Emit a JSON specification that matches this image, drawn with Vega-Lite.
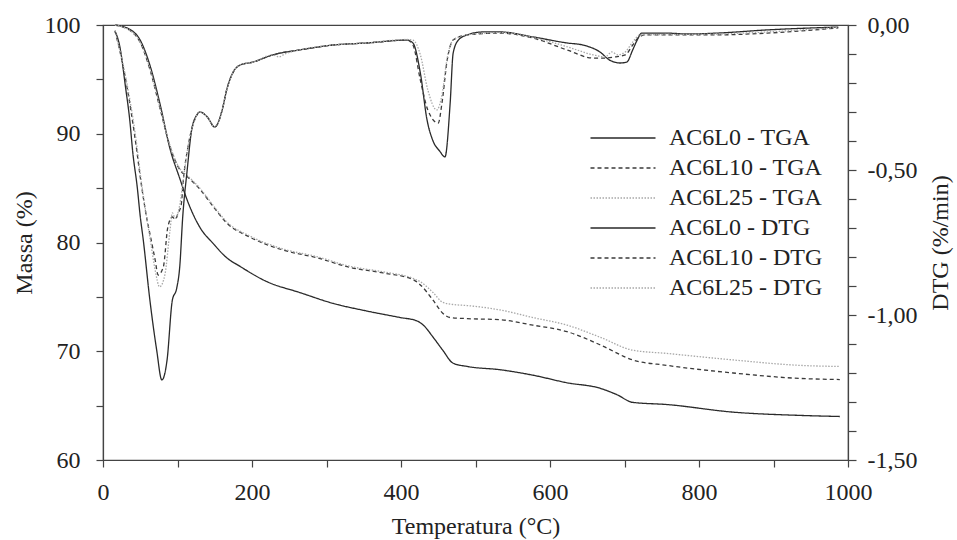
{
  "$schema": "https://vega.github.io/schema/vega-lite/v6.json",
  "width": 745,
  "height": 435,
  "autosize": {"type": "none"},
  "padding": {"left": 103, "top": 25, "right": 109, "bottom": 80},
  "background": "white",
  "config": {
    "font": "Liberation Serif",
    "view": {"stroke": "#444", "strokeWidth": 1.2},
    "axis": {
      "domainColor": "#444", "tickColor": "#444", "labelColor": "#222", "titleColor": "#222",
      "labelFont": "Liberation Serif", "titleFont": "Liberation Serif",
      "labelFontSize": 24, "titleFontSize": 24, "titleFontWeight": "normal",
      "grid": false, "tickSize": 7, "domainWidth": 1.2, "tickWidth": 1.2,
      "labelOverlap": false, "labelBound": false, "labelFlush": false
    }
  },
  "data": {
    "values": [
      {"s":"AC6L0 - TGA","t":16,"v":100},{"s":"AC6L0 - TGA","t":36,"v":99.6},{"s":"AC6L0 - TGA","t":50,"v":98.6},{"s":"AC6L0 - TGA","t":63,"v":96.3},{"s":"AC6L0 - TGA","t":77,"v":92.6},{"s":"AC6L0 - TGA","t":90,"v":88.6},{"s":"AC6L0 - TGA","t":103,"v":85.9},{"s":"AC6L0 - TGA","t":113,"v":83.9},{"s":"AC6L0 - TGA","t":130,"v":81.4},{"s":"AC6L0 - TGA","t":148,"v":79.9},{"s":"AC6L0 - TGA","t":166,"v":78.6},{"s":"AC6L0 - TGA","t":184,"v":77.8},{"s":"AC6L0 - TGA","t":220,"v":76.4},{"s":"AC6L0 - TGA","t":264,"v":75.4},{"s":"AC6L0 - TGA","t":309,"v":74.4},{"s":"AC6L0 - TGA","t":354,"v":73.7},{"s":"AC6L0 - TGA","t":399,"v":73.1},{"s":"AC6L0 - TGA","t":421,"v":72.8},{"s":"AC6L0 - TGA","t":430,"v":72.4},{"s":"AC6L0 - TGA","t":443,"v":71.3},{"s":"AC6L0 - TGA","t":456,"v":70.1},{"s":"AC6L0 - TGA","t":470,"v":68.9},{"s":"AC6L0 - TGA","t":489,"v":68.6},{"s":"AC6L0 - TGA","t":533,"v":68.3},{"s":"AC6L0 - TGA","t":577,"v":67.8},{"s":"AC6L0 - TGA","t":623,"v":67.1},{"s":"AC6L0 - TGA","t":667,"v":66.6},{"s":"AC6L0 - TGA","t":690,"v":66.0},{"s":"AC6L0 - TGA","t":711,"v":65.3},{"s":"AC6L0 - TGA","t":757,"v":65.1},{"s":"AC6L0 - TGA","t":846,"v":64.4},{"s":"AC6L0 - TGA","t":936,"v":64.1},{"s":"AC6L0 - TGA","t":989,"v":64.0},

      {"s":"AC6L10 - TGA","t":16,"v":100},{"s":"AC6L10 - TGA","t":36,"v":99.5},{"s":"AC6L10 - TGA","t":50,"v":98.4},{"s":"AC6L10 - TGA","t":63,"v":95.9},{"s":"AC6L10 - TGA","t":77,"v":92.2},{"s":"AC6L10 - TGA","t":90,"v":88.8},{"s":"AC6L10 - TGA","t":103,"v":86.7},{"s":"AC6L10 - TGA","t":114,"v":86.0},{"s":"AC6L10 - TGA","t":130,"v":84.9},{"s":"AC6L10 - TGA","t":148,"v":83.3},{"s":"AC6L10 - TGA","t":166,"v":81.8},{"s":"AC6L10 - TGA","t":197,"v":80.5},{"s":"AC6L10 - TGA","t":242,"v":79.3},{"s":"AC6L10 - TGA","t":287,"v":78.6},{"s":"AC6L10 - TGA","t":332,"v":77.7},{"s":"AC6L10 - TGA","t":376,"v":77.2},{"s":"AC6L10 - TGA","t":416,"v":76.6},{"s":"AC6L10 - TGA","t":426,"v":76.1},{"s":"AC6L10 - TGA","t":443,"v":74.7},{"s":"AC6L10 - TGA","t":456,"v":73.5},{"s":"AC6L10 - TGA","t":466,"v":73.1},{"s":"AC6L10 - TGA","t":489,"v":73.0},{"s":"AC6L10 - TGA","t":533,"v":72.9},{"s":"AC6L10 - TGA","t":577,"v":72.4},{"s":"AC6L10 - TGA","t":623,"v":71.8},{"s":"AC6L10 - TGA","t":667,"v":70.6},{"s":"AC6L10 - TGA","t":711,"v":69.2},{"s":"AC6L10 - TGA","t":757,"v":68.7},{"s":"AC6L10 - TGA","t":846,"v":68.0},{"s":"AC6L10 - TGA","t":936,"v":67.5},{"s":"AC6L10 - TGA","t":989,"v":67.4},

      {"s":"AC6L25 - TGA","t":16,"v":100},{"s":"AC6L25 - TGA","t":36,"v":99.5},{"s":"AC6L25 - TGA","t":50,"v":98.4},{"s":"AC6L25 - TGA","t":63,"v":96.0},{"s":"AC6L25 - TGA","t":77,"v":92.3},{"s":"AC6L25 - TGA","t":90,"v":88.9},{"s":"AC6L25 - TGA","t":103,"v":86.8},{"s":"AC6L25 - TGA","t":114,"v":86.1},{"s":"AC6L25 - TGA","t":130,"v":85.0},{"s":"AC6L25 - TGA","t":148,"v":83.4},{"s":"AC6L25 - TGA","t":166,"v":81.9},{"s":"AC6L25 - TGA","t":197,"v":80.6},{"s":"AC6L25 - TGA","t":242,"v":79.4},{"s":"AC6L25 - TGA","t":287,"v":78.7},{"s":"AC6L25 - TGA","t":332,"v":77.8},{"s":"AC6L25 - TGA","t":376,"v":77.3},{"s":"AC6L25 - TGA","t":416,"v":76.7},{"s":"AC6L25 - TGA","t":428,"v":76.3},{"s":"AC6L25 - TGA","t":443,"v":75.4},{"s":"AC6L25 - TGA","t":456,"v":74.5},{"s":"AC6L25 - TGA","t":470,"v":74.3},{"s":"AC6L25 - TGA","t":489,"v":74.2},{"s":"AC6L25 - TGA","t":533,"v":73.8},{"s":"AC6L25 - TGA","t":577,"v":73.1},{"s":"AC6L25 - TGA","t":623,"v":72.4},{"s":"AC6L25 - TGA","t":667,"v":71.3},{"s":"AC6L25 - TGA","t":711,"v":70.1},{"s":"AC6L25 - TGA","t":757,"v":69.8},{"s":"AC6L25 - TGA","t":846,"v":69.2},{"s":"AC6L25 - TGA","t":936,"v":68.7},{"s":"AC6L25 - TGA","t":989,"v":68.6},

      {"s":"AC6L0 - DTG","t":16,"v":-0.02},{"s":"AC6L0 - DTG","t":23,"v":-0.08},{"s":"AC6L0 - DTG","t":30,"v":-0.21},{"s":"AC6L0 - DTG","t":36,"v":-0.33},{"s":"AC6L0 - DTG","t":40,"v":-0.44},{"s":"AC6L0 - DTG","t":46,"v":-0.56},{"s":"AC6L0 - DTG","t":50,"v":-0.66},{"s":"AC6L0 - DTG","t":54,"v":-0.74},{"s":"AC6L0 - DTG","t":63,"v":-0.95},{"s":"AC6L0 - DTG","t":72,"v":-1.12},{"s":"AC6L0 - DTG","t":79,"v":-1.224},{"s":"AC6L0 - DTG","t":86,"v":-1.155},{"s":"AC6L0 - DTG","t":93,"v":-0.95},{"s":"AC6L0 - DTG","t":99,"v":-0.907},{"s":"AC6L0 - DTG","t":103,"v":-0.834},{"s":"AC6L0 - DTG","t":107,"v":-0.662},{"s":"AC6L0 - DTG","t":113,"v":-0.5},{"s":"AC6L0 - DTG","t":119,"v":-0.362},{"s":"AC6L0 - DTG","t":126,"v":-0.31},{"s":"AC6L0 - DTG","t":130,"v":-0.3},{"s":"AC6L0 - DTG","t":140,"v":-0.317},{"s":"AC6L0 - DTG","t":150,"v":-0.352},{"s":"AC6L0 - DTG","t":160,"v":-0.293},{"s":"AC6L0 - DTG","t":166,"v":-0.224},{"s":"AC6L0 - DTG","t":174,"v":-0.166},{"s":"AC6L0 - DTG","t":184,"v":-0.138},{"s":"AC6L0 - DTG","t":201,"v":-0.128},{"s":"AC6L0 - DTG","t":228,"v":-0.103},{"s":"AC6L0 - DTG","t":264,"v":-0.086},{"s":"AC6L0 - DTG","t":309,"v":-0.069},{"s":"AC6L0 - DTG","t":354,"v":-0.062},{"s":"AC6L0 - DTG","t":408,"v":-0.052},{"s":"AC6L0 - DTG","t":416,"v":-0.062},{"s":"AC6L0 - DTG","t":426,"v":-0.166},{"s":"AC6L0 - DTG","t":435,"v":-0.328},{"s":"AC6L0 - DTG","t":443,"v":-0.4},{"s":"AC6L0 - DTG","t":452,"v":-0.435},{"s":"AC6L0 - DTG","t":459,"v":-0.455},{"s":"AC6L0 - DTG","t":466,"v":-0.269},{"s":"AC6L0 - DTG","t":470,"v":-0.097},{"s":"AC6L0 - DTG","t":477,"v":-0.052},{"s":"AC6L0 - DTG","t":489,"v":-0.034},{"s":"AC6L0 - DTG","t":510,"v":-0.024},{"s":"AC6L0 - DTG","t":533,"v":-0.024},{"s":"AC6L0 - DTG","t":577,"v":-0.041},{"s":"AC6L0 - DTG","t":623,"v":-0.062},{"s":"AC6L0 - DTG","t":644,"v":-0.069},{"s":"AC6L0 - DTG","t":667,"v":-0.093},{"s":"AC6L0 - DTG","t":680,"v":-0.121},{"s":"AC6L0 - DTG","t":694,"v":-0.131},{"s":"AC6L0 - DTG","t":703,"v":-0.128},{"s":"AC6L0 - DTG","t":711,"v":-0.086},{"s":"AC6L0 - DTG","t":717,"v":-0.052},{"s":"AC6L0 - DTG","t":723,"v":-0.028},{"s":"AC6L0 - DTG","t":757,"v":-0.028},{"s":"AC6L0 - DTG","t":784,"v":-0.031},{"s":"AC6L0 - DTG","t":824,"v":-0.028},{"s":"AC6L0 - DTG","t":891,"v":-0.017},{"s":"AC6L0 - DTG","t":987,"v":-0.007},

      {"s":"AC6L10 - DTG","t":16,"v":-0.02},{"s":"AC6L10 - DTG","t":19,"v":-0.05},{"s":"AC6L10 - DTG","t":32,"v":-0.21},{"s":"AC6L10 - DTG","t":43,"v":-0.39},{"s":"AC6L10 - DTG","t":52,"v":-0.56},{"s":"AC6L10 - DTG","t":59,"v":-0.67},{"s":"AC6L10 - DTG","t":63,"v":-0.72},{"s":"AC6L10 - DTG","t":70,"v":-0.81},{"s":"AC6L10 - DTG","t":74,"v":-0.862},{"s":"AC6L10 - DTG","t":81,"v":-0.834},{"s":"AC6L10 - DTG","t":87,"v":-0.697},{"s":"AC6L10 - DTG","t":93,"v":-0.662},{"s":"AC6L10 - DTG","t":97,"v":-0.67},{"s":"AC6L10 - DTG","t":101,"v":-0.648},{"s":"AC6L10 - DTG","t":105,"v":-0.62},{"s":"AC6L10 - DTG","t":108,"v":-0.53},{"s":"AC6L10 - DTG","t":114,"v":-0.421},{"s":"AC6L10 - DTG","t":123,"v":-0.328},{"s":"AC6L10 - DTG","t":130,"v":-0.3},{"s":"AC6L10 - DTG","t":140,"v":-0.317},{"s":"AC6L10 - DTG","t":150,"v":-0.352},{"s":"AC6L10 - DTG","t":160,"v":-0.293},{"s":"AC6L10 - DTG","t":166,"v":-0.224},{"s":"AC6L10 - DTG","t":174,"v":-0.166},{"s":"AC6L10 - DTG","t":184,"v":-0.138},{"s":"AC6L10 - DTG","t":201,"v":-0.128},{"s":"AC6L10 - DTG","t":228,"v":-0.103},{"s":"AC6L10 - DTG","t":264,"v":-0.086},{"s":"AC6L10 - DTG","t":309,"v":-0.069},{"s":"AC6L10 - DTG","t":354,"v":-0.062},{"s":"AC6L10 - DTG","t":408,"v":-0.052},{"s":"AC6L10 - DTG","t":416,"v":-0.069},{"s":"AC6L10 - DTG","t":426,"v":-0.19},{"s":"AC6L10 - DTG","t":436,"v":-0.293},{"s":"AC6L10 - DTG","t":450,"v":-0.338},{"s":"AC6L10 - DTG","t":455,"v":-0.269},{"s":"AC6L10 - DTG","t":462,"v":-0.121},{"s":"AC6L10 - DTG","t":470,"v":-0.052},{"s":"AC6L10 - DTG","t":489,"v":-0.034},{"s":"AC6L10 - DTG","t":533,"v":-0.028},{"s":"AC6L10 - DTG","t":577,"v":-0.045},{"s":"AC6L10 - DTG","t":623,"v":-0.086},{"s":"AC6L10 - DTG","t":658,"v":-0.114},{"s":"AC6L10 - DTG","t":674,"v":-0.114},{"s":"AC6L10 - DTG","t":687,"v":-0.11},{"s":"AC6L10 - DTG","t":701,"v":-0.103},{"s":"AC6L10 - DTG","t":711,"v":-0.069},{"s":"AC6L10 - DTG","t":718,"v":-0.045},{"s":"AC6L10 - DTG","t":728,"v":-0.034},{"s":"AC6L10 - DTG","t":824,"v":-0.034},{"s":"AC6L10 - DTG","t":891,"v":-0.028},{"s":"AC6L10 - DTG","t":987,"v":-0.01},

      {"s":"AC6L25 - DTG","t":16,"v":-0.02},{"s":"AC6L25 - DTG","t":19,"v":-0.05},{"s":"AC6L25 - DTG","t":32,"v":-0.2},{"s":"AC6L25 - DTG","t":43,"v":-0.37},{"s":"AC6L25 - DTG","t":52,"v":-0.55},{"s":"AC6L25 - DTG","t":59,"v":-0.67},{"s":"AC6L25 - DTG","t":64,"v":-0.75},{"s":"AC6L25 - DTG","t":70,"v":-0.845},{"s":"AC6L25 - DTG","t":76,"v":-0.903},{"s":"AC6L25 - DTG","t":83,"v":-0.862},{"s":"AC6L25 - DTG","t":90,"v":-0.707},{"s":"AC6L25 - DTG","t":93,"v":-0.648},{"s":"AC6L25 - DTG","t":97,"v":-0.666},{"s":"AC6L25 - DTG","t":103,"v":-0.621},{"s":"AC6L25 - DTG","t":108,"v":-0.53},{"s":"AC6L25 - DTG","t":114,"v":-0.421},{"s":"AC6L25 - DTG","t":123,"v":-0.328},{"s":"AC6L25 - DTG","t":130,"v":-0.3},{"s":"AC6L25 - DTG","t":140,"v":-0.317},{"s":"AC6L25 - DTG","t":150,"v":-0.352},{"s":"AC6L25 - DTG","t":160,"v":-0.293},{"s":"AC6L25 - DTG","t":166,"v":-0.224},{"s":"AC6L25 - DTG","t":174,"v":-0.166},{"s":"AC6L25 - DTG","t":184,"v":-0.138},{"s":"AC6L25 - DTG","t":201,"v":-0.128},{"s":"AC6L25 - DTG","t":228,"v":-0.103},{"s":"AC6L25 - DTG","t":236,"v":-0.11},{"s":"AC6L25 - DTG","t":244,"v":-0.1},{"s":"AC6L25 - DTG","t":264,"v":-0.086},{"s":"AC6L25 - DTG","t":309,"v":-0.069},{"s":"AC6L25 - DTG","t":354,"v":-0.062},{"s":"AC6L25 - DTG","t":408,"v":-0.05},{"s":"AC6L25 - DTG","t":416,"v":-0.052},{"s":"AC6L25 - DTG","t":426,"v":-0.103},{"s":"AC6L25 - DTG","t":436,"v":-0.224},{"s":"AC6L25 - DTG","t":448,"v":-0.293},{"s":"AC6L25 - DTG","t":455,"v":-0.241},{"s":"AC6L25 - DTG","t":462,"v":-0.114},{"s":"AC6L25 - DTG","t":470,"v":-0.052},{"s":"AC6L25 - DTG","t":489,"v":-0.034},{"s":"AC6L25 - DTG","t":533,"v":-0.026},{"s":"AC6L25 - DTG","t":577,"v":-0.043},{"s":"AC6L25 - DTG","t":623,"v":-0.075},{"s":"AC6L25 - DTG","t":658,"v":-0.103},{"s":"AC6L25 - DTG","t":674,"v":-0.11},{"s":"AC6L25 - DTG","t":683,"v":-0.093},{"s":"AC6L25 - DTG","t":691,"v":-0.103},{"s":"AC6L25 - DTG","t":701,"v":-0.093},{"s":"AC6L25 - DTG","t":711,"v":-0.059},{"s":"AC6L25 - DTG","t":721,"v":-0.034},{"s":"AC6L25 - DTG","t":824,"v":-0.031},{"s":"AC6L25 - DTG","t":891,"v":-0.024},{"s":"AC6L25 - DTG","t":987,"v":-0.008}
    ]
  },
  "layer": [
    {
      "transform": [{"filter": "indexof(datum.s, 'TGA') >= 0"}],
      "mark": {"type": "line", "interpolate": "monotone", "strokeWidth": 1.3},
      "encoding": {
        "x": {
          "field": "t", "type": "quantitative",
          "scale": {"domain": [0, 1000], "nice": false},
          "axis": {
            "title": "Temperatura (°C)",
            "values": [0,50,100,150,200,250,300,350,400,450,500,550,600,650,700,750,800,850,900,950,1000],
            "labelExpr": "datum.value % 200 == 0 ? format(datum.value, 'd') : ''",
            "labelFont": "Liberation Serif", "titleFont": "Liberation Serif",
            "labelPadding": 13, "titlePadding": 10
          }
        },
        "y": {
          "field": "v", "type": "quantitative",
          "scale": {"domain": [60, 100], "nice": false, "zero": false},
          "axis": {
            "title": "Massa (%)",
            "values": [60,65,70,75,80,85,90,95,100],
            "labelExpr": "datum.value % 10 == 0 ? format(datum.value, 'd') : ''",
            "labelFont": "Liberation Serif", "titleFont": "Liberation Serif",
            "labelPadding": 16, "titlePadding": 8
          }
        },
        "color": {
          "field": "s", "type": "nominal",
          "scale": {
            "domain": ["AC6L0 - TGA","AC6L10 - TGA","AC6L25 - TGA","AC6L0 - DTG","AC6L10 - DTG","AC6L25 - DTG"],
            "range": ["#2a2a2a","#3a3a3a","#a8a8a8","#2a2a2a","#3a3a3a","#a8a8a8"]
          },
          "legend": {
            "orient": "none", "legendX": 508, "legendY": 101, "title": null,
            "symbolType": "M-5,0H5", "symbolSize": 169, "symbolStrokeWidth": 1.3,
            "labelFont": "Liberation Serif", "labelFontSize": 24, "labelColor": "#222",
            "labelOffset": 34, "rowPadding": 6, "labelLimit": 300, "padding": 0
          }
        },
        "strokeDash": {
          "field": "s", "type": "nominal",
          "scale": {
            "domain": ["AC6L0 - TGA","AC6L10 - TGA","AC6L25 - TGA","AC6L0 - DTG","AC6L10 - DTG","AC6L25 - DTG"],
            "range": [[1,0],[4,3],[1.5,1.5],[1,0],[4,3],[1.5,1.5]]
          },
          "legend": {
            "orient": "none", "legendX": 508, "legendY": 101, "title": null,
            "symbolType": "M-5,0H5", "symbolSize": 169, "symbolStrokeWidth": 1.3,
            "labelFont": "Liberation Serif", "labelFontSize": 24, "labelColor": "#222",
            "labelOffset": 34, "rowPadding": 6, "labelLimit": 300, "padding": 0
          }
        }
      }
    },
    {
      "transform": [{"filter": "indexof(datum.s, 'DTG') >= 0"}],
      "mark": {"type": "line", "interpolate": "monotone", "strokeWidth": 1.3},
      "encoding": {
        "x": {"field": "t", "type": "quantitative"},
        "y": {
          "field": "v", "type": "quantitative",
          "scale": {"domain": [-1.5, 0], "nice": false, "zero": false},
          "axis": {
            "orient": "right",
            "title": "DTG (%/min)",
            "values": [-1.5,-1.4,-1.3,-1.2,-1.1,-1.0,-0.9,-0.8,-0.7,-0.6,-0.5,-0.4,-0.3,-0.2,-0.1,0],
            "labelExpr": "abs(datum.value*2 - round(datum.value*2)) < 0.001 ? replace(replace(format(datum.value, '.2f'), '.', ','), '\u2212', '-') : ''",
            "labelFont": "Liberation Serif", "titleFont": "Liberation Serif",
            "tickSize": 8, "labelPadding": 11, "titleAngle": 270, "titleBaseline": "top", "titlePadding": 12
          }
        },
        "color": {"field": "s", "type": "nominal"},
        "strokeDash": {"field": "s", "type": "nominal"}
      }
    }
  ],
  "resolve": {"scale": {"y": "independent"}}
}
